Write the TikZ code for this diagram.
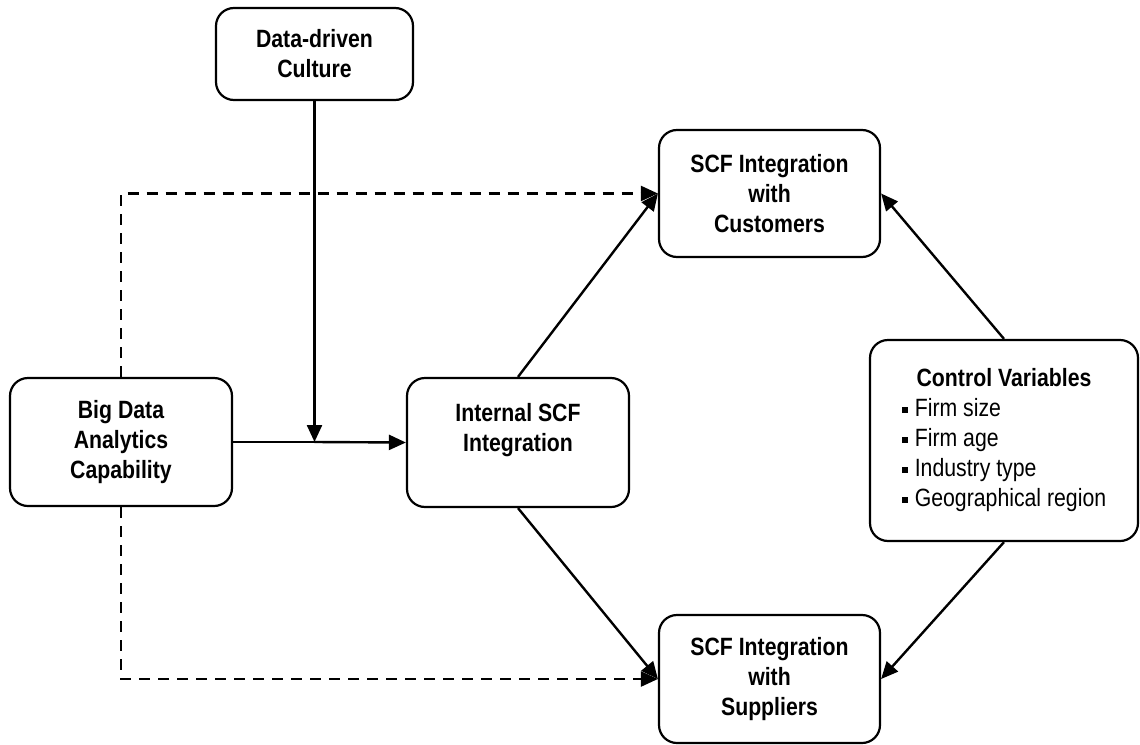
\documentclass[tikz,border=0pt]{standalone}
\usepackage{fontspec}
\setmainfont{Liberation Sans}[FakeStretch=0.85]
\usepackage{tikz}
\usetikzlibrary{arrows.meta,positioning,calc}

\tikzset{
    boxnode/.style={draw, line width=2.2pt, rounded corners=18pt, align=center,
        inner sep=0pt, font=\fontsize{25}{30}\selectfont\bfseries},
    flow/.style={line width=2.4pt, -{Triangle[length=17pt,width=15pt]}},
    dflow/.style={flow, dash pattern=on 11pt off 8pt}
}
\newcommand{\sqbullet}{\rule[0.25ex]{6pt}{6pt}\hspace{7pt}}

\begin{document}
\begin{tikzpicture}[x=1pt, y=-1pt]
    \useasboundingbox (0,0) rectangle (1140,744);

    \node[boxnode, minimum width=197pt, minimum height=92pt] (culture) at (314.5,54) {Data-driven\\Culture};
    \node[boxnode, minimum width=222pt, minimum height=128pt] (bda) at (121,442) {Big Data\\Analytics\\Capability};
    \node[boxnode, minimum width=222pt, minimum height=129pt] (internal) at (518,442.5) {Internal SCF\\Integration\\~};
    \node[boxnode, minimum width=221pt, minimum height=127pt] (cust) at (769.5,193.5) {SCF Integration\\with\\Customers};
    \node[boxnode, minimum width=221pt, minimum height=128pt] (supp) at (769.5,679) {SCF Integration\\with\\Suppliers};
    \node[boxnode, minimum width=268pt, minimum height=201pt, font=\fontsize{25}{31}\selectfont] (ctrl) at (1004,440.5) {%
        \begin{tabular}{@{}l@{}}
            \multicolumn{1}{c}{\bfseries Control Variables}\\[-1pt]
            \sqbullet Firm size\\[-1pt]
            \sqbullet Firm age\\[-1pt]
            \sqbullet Industry type\\[-1pt]
            \sqbullet Geographical region
        \end{tabular}};

    \coordinate (mod) at (culture.south |- bda.east);

    \draw[line width=2.4pt] (bda.east) -- (mod);
    \draw[flow] (mod) -- (internal.west);
    \draw[flow] (culture.south) -- (mod);

    \draw[flow] (internal.north) -- (cust.west);
    \draw[flow] (internal.south) -- (supp.west);

    \draw[dflow] (bda.north) |- (cust.west);
    \draw[dflow] (bda.south) |- (supp.west);

    \draw[flow] (ctrl.north) -- (cust.east);
    \draw[flow] (ctrl.south) -- (supp.east);
\end{tikzpicture}
\end{document}
